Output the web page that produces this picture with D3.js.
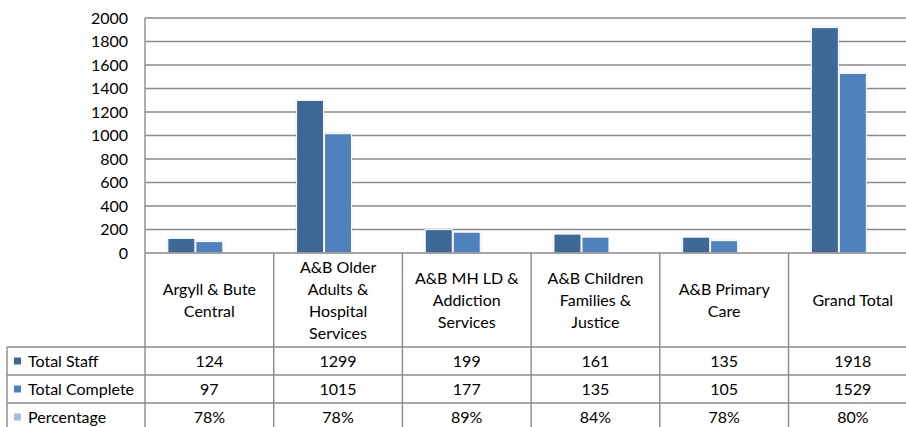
<!DOCTYPE html>
<html><head><meta charset="utf-8">
<script src="https://cdn.jsdelivr.net/npm/d3@7"></script>
<style>
html,body{margin:0;padding:0;background:#fff;overflow:hidden;}
svg{display:block;font-family:Lato,"Open Sans",sans-serif;}
</style></head>
<body>
<svg id="chart" width="906" height="427"></svg>
<script>
// ---- data ----
const categories = [
  "Argyll & Bute\nCentral",
  "A&B Older\nAdults &\nHospital\nServices",
  "A&B MH LD &\nAddiction\nServices",
  "A&B Children\nFamilies &\nJustice",
  "A&B Primary\nCare",
  "Grand Total"
];
const seriesNames = ["Total Staff", "Total Complete", "Percentage"];
const totalStaff    = [124, 1299, 199, 161, 135, 1918];
const totalComplete = [97, 1015, 177, 135, 105, 1529];
const percentage    = [0.78, 0.78, 0.89, 0.84, 0.78, 0.80];
const percentLabels = ["78%", "78%", "89%", "84%", "78%", "80%"];
const yTicks = [0, 200, 400, 600, 800, 1000, 1200, 1400, 1600, 1800, 2000];
const colors = ["#3E6798", "#4F81BD", "#A9BCDB"];

// ---- layout ----
const W = 906, H = 427;
const plotLeft = 145, plotTop = 18, plotBottom = 253;
const colW = 128.7;
const headerBottom = 347, rowH = 28, tableLeft = 7;
const gridColor = "#8a8a8a";
const fs = 16;

const svg = d3.select("#chart");

const x = d3.scaleBand().domain(d3.range(categories.length))
  .range([plotLeft, plotLeft + colW * categories.length]).padding(0);
const groupW = 84;
const xs = d3.scaleBand().domain(seriesNames).range([0, groupW]).padding(0);
const y = d3.scaleLinear().domain([0, 2000]).range([plotBottom, plotTop]);

// gridlines
svg.append("g").selectAll("line").data(yTicks.filter(d => d > 0)).join("line")
  .attr("x1", plotLeft).attr("x2", W)
  .attr("y1", d => y(d)).attr("y2", d => y(d))
  .attr("stroke", gridColor).attr("stroke-width", 1.4);

// y axis
const yAxis = d3.axisLeft(y).tickValues(yTicks).tickSize(0).tickPadding(17).tickFormat(d3.format("d"));
const ga = svg.append("g").attr("transform", `translate(${plotLeft},0)`).call(yAxis);
ga.select(".domain").remove();
ga.selectAll("text").attr("font-size", fs).attr("fill", "#000").attr("font-family", "Lato,sans-serif");

// bars
const seriesData = [totalStaff, totalComplete, percentage];
const defs = svg.append("defs");
const f = defs.append("filter").attr("id", "sh").attr("x", "-20%").attr("y", "-20%").attr("width", "140%").attr("height", "140%");
f.append("feGaussianBlur").attr("in", "SourceAlpha").attr("stdDeviation", 1.2).attr("result", "b");
f.append("feFlood").attr("flood-color", "#000").attr("flood-opacity", 0.15).attr("result", "c");
f.append("feComposite").attr("in", "c").attr("in2", "b").attr("operator", "in").attr("result", "s");
const m = f.append("feMerge"); m.append("feMergeNode").attr("in", "s"); m.append("feMergeNode").attr("in", "SourceGraphic");

const barG = svg.append("g");
seriesData.forEach((vals, si) => {
  barG.append("g").selectAll("rect").data(vals).join("rect")
    .attr("x", (d, i) => x(i) + (x.bandwidth() - groupW) / 2 + xs(seriesNames[si]) + 0.5)
    .attr("width", xs.bandwidth() - 1)
    .attr("y", d => y(d))
    .attr("height", d => y(0) - y(d))
    .attr("fill", colors[si])
    .attr("stroke", "#fff").attr("stroke-width", 1)
    .attr("filter", "url(#sh)");
});

// plot left border
svg.append("line").attr("x1", plotLeft).attr("x2", plotLeft).attr("y1", plotTop).attr("y2", H)
  .attr("stroke", gridColor).attr("stroke-width", 1.4);

// ---- data table ----
const tbl = svg.append("g");
const rowYs = [headerBottom, headerBottom + rowH, headerBottom + 2 * rowH];
// horizontal lines
tbl.append("line").attr("x1", plotLeft).attr("x2", W).attr("y1", plotBottom).attr("y2", plotBottom)
  .attr("stroke", gridColor).attr("stroke-width", 1.4);
tbl.selectAll("line.h").data(rowYs).join("line").attr("class", "h")
  .attr("x1", tableLeft).attr("x2", W).attr("y1", d => d).attr("y2", d => d)
  .attr("stroke", gridColor).attr("stroke-width", 1.4);
// vertical lines
tbl.selectAll("line.v").data(d3.range(1, categories.length + 1)).join("line").attr("class", "v")
  .attr("x1", i => x(i) !== undefined ? x(i) : plotLeft + colW * i)
  .attr("x2", i => x(i) !== undefined ? x(i) : plotLeft + colW * i)
  .attr("y1", plotBottom).attr("y2", H)
  .attr("stroke", gridColor).attr("stroke-width", 1.4);
tbl.append("line").attr("x1", tableLeft).attr("x2", tableLeft).attr("y1", headerBottom).attr("y2", H)
  .attr("stroke", gridColor).attr("stroke-width", 1.4);

// header labels
const lineH = 22;
const headerMid = (plotBottom + headerBottom) / 2;
categories.forEach((c, i) => {
  const lines = c.split("\n");
  const t = tbl.append("text").attr("text-anchor", "middle").attr("font-size", fs).attr("fill", "#000");
  lines.forEach((ln, k) => {
    t.append("tspan").attr("x", x(i) + x.bandwidth() / 2)
      .attr("y", headerMid + (k - (lines.length - 1) / 2) * lineH + fs * 0.36)
      .text(ln);
  });
});

// rows
const rowValues = [totalStaff.map(String), totalComplete.map(String), percentLabels];
seriesNames.forEach((s, r) => {
  const cy = headerBottom + rowH * r + rowH / 2;
  tbl.append("rect").attr("x", 14).attr("y", cy - 3.5).attr("width", 7).attr("height", 7).attr("fill", colors[r]);
  tbl.append("text").attr("x", 28).attr("y", cy + fs * 0.36).attr("font-size", fs).attr("fill", "#000").text(s);
  tbl.append("g").selectAll("text").data(rowValues[r]).join("text")
    .attr("x", (d, i) => x(i) + x.bandwidth() / 2).attr("y", cy + fs * 0.36)
    .attr("text-anchor", "middle").attr("font-size", fs).attr("fill", "#000").text(d => d);
});
</script>
</body></html>
